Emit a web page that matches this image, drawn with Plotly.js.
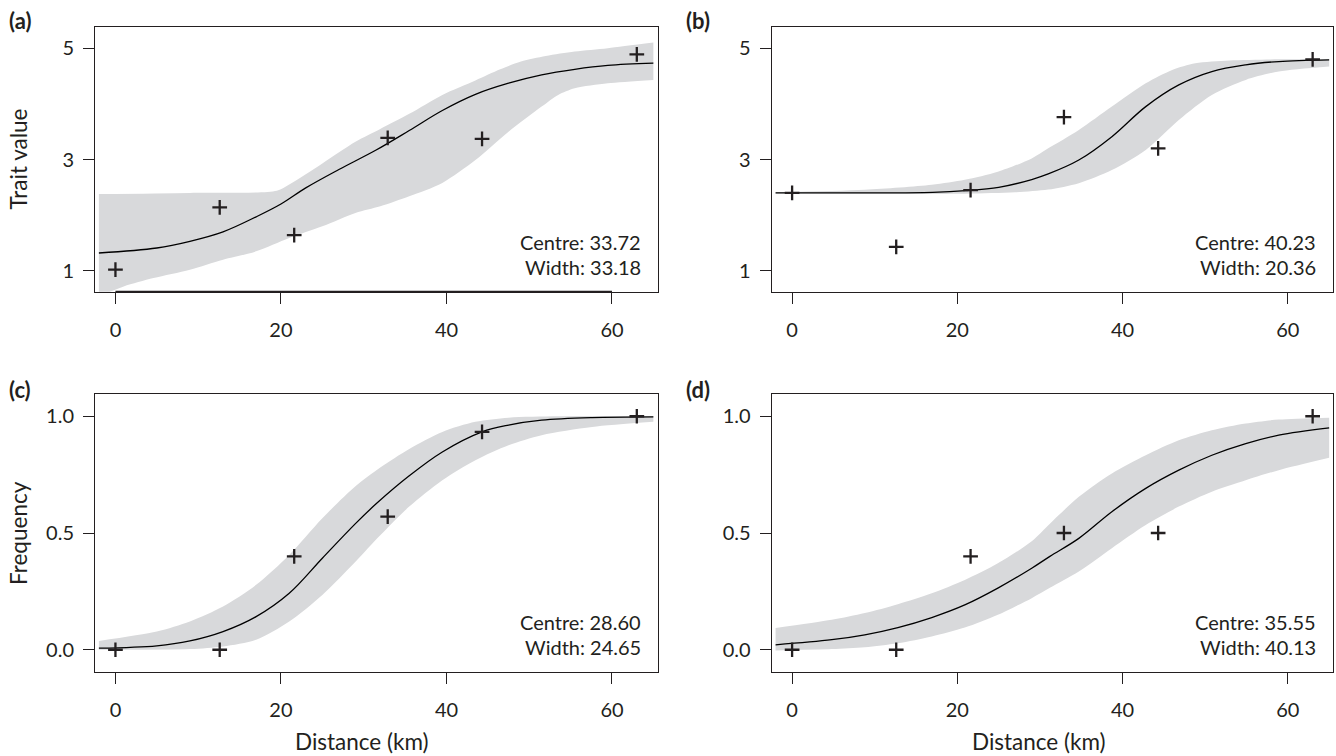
<!DOCTYPE html>
<html><head><meta charset="utf-8">
<script src="https://cdn.plot.ly/plotly-3.0.1.min.js"></script>
<style>html,body{margin:0;padding:0;background:#fff;}#chart{width:1336px;height:756px;}</style>
</head><body><div id="chart"></div>
<script>
// ---------- data ----------
const distance = [0, 12.6, 21.6, 32.9, 44.3, 63.0];
const traitA = [1.02, 2.14, 1.64, 3.39, 3.37, 4.89];
const traitB = [2.40, 1.43, 2.45, 3.76, 3.20, 4.80];
const freqC = [0, 0, 0.40, 0.57, 0.933, 1.0];
const freqD = [0, 0, 0.40, 0.50, 0.50, 1.0];

const fitAx = [-2, 5, 9, 13, 17, 20, 23, 27, 31.5, 35.5, 39.5, 43.5, 47.5, 51.5, 55.5, 59.5, 65];
const fitAy = [1.32, 1.41, 1.53, 1.70, 1.97, 2.20, 2.49, 2.82, 3.17, 3.52, 3.88, 4.17, 4.37, 4.52, 4.62, 4.69, 4.73];
const upAx = [-2, 9, 19.5, 21, 25, 29, 32, 35.5, 39.5, 43.5, 46.5, 49, 52, 55.5, 59.5, 65];
const upAy = [2.38, 2.40, 2.44, 2.55, 2.93, 3.32, 3.55, 3.82, 4.16, 4.42, 4.62, 4.76, 4.86, 4.94, 5.00, 5.10];
const loAx = [-2, 1, 4.6, 9, 13, 17, 21, 25, 29, 32, 35.5, 39.5, 43.5, 47.5, 51.5, 53.5, 55.5, 59.5, 65];
const loAy = [0.54, 0.72, 0.87, 1.02, 1.20, 1.35, 1.59, 1.80, 2.04, 2.16, 2.34, 2.58, 2.99, 3.50, 3.95, 4.16, 4.28, 4.37, 4.43];

const fitBx = [-2, 8.8, 17, 21, 25, 29, 31, 34.7, 38.7, 42.8, 46.8, 50.8, 54.9, 58.9, 65];
const fitBy = [2.40, 2.40, 2.41, 2.44, 2.50, 2.64, 2.74, 2.99, 3.41, 3.95, 4.34, 4.58, 4.70, 4.76, 4.79];
const upBx = [-2, 8.8, 16.9, 20.9, 24.9, 29, 31, 34.7, 38.7, 42.8, 46, 48.8, 52.9, 58.9, 65];
const upBy = [2.41, 2.455, 2.545, 2.635, 2.78, 3.02, 3.20, 3.53, 3.95, 4.37, 4.61, 4.73, 4.78, 4.80, 4.80];
const loBx = [-2, 8.8, 20.9, 27, 31, 34.7, 38.7, 42.8, 46.8, 50.8, 54.9, 58.9, 65];
const loBy = [2.39, 2.385, 2.385, 2.41, 2.46, 2.575, 2.81, 3.17, 3.71, 4.16, 4.43, 4.58, 4.67];

const fitCx = [-2, 5, 9, 13, 17, 21, 25, 29, 31.5, 35.5, 39.5, 44.3, 47.5, 51.5, 57.6, 65];
const fitCy = [0.007, 0.017, 0.038, 0.078, 0.142, 0.242, 0.392, 0.54, 0.625, 0.745, 0.847, 0.933, 0.962, 0.983, 0.994, 0.997];
const upCx = [-2, 5, 9, 13, 17, 21, 25, 29, 32, 35.5, 39.5, 43.5, 47.5, 53.6, 65];
const upCy = [0.038, 0.078, 0.121, 0.185, 0.278, 0.406, 0.563, 0.700, 0.780, 0.860, 0.933, 0.976, 0.994, 1.0, 1.0];
const loCx = [-2, 9, 13, 17, 21, 25, 29, 32, 35.5, 39.5, 43.5, 47.5, 51.5, 57.6, 65];
const loCy = [0.0, 0.003, 0.014, 0.043, 0.121, 0.235, 0.377, 0.49, 0.613, 0.726, 0.812, 0.876, 0.919, 0.954, 0.976];

const fitDx = [-2, 4.8, 8.8, 12.8, 16.9, 20.9, 24.9, 29, 31.2, 34.7, 38.7, 42.8, 46.8, 50.8, 54.9, 58.9, 65];
const fitDy = [0.021, 0.043, 0.064, 0.095, 0.138, 0.192, 0.264, 0.349, 0.40, 0.477, 0.591, 0.691, 0.769, 0.833, 0.883, 0.919, 0.950];
const upDy = [0.093, 0.128, 0.157, 0.195, 0.242, 0.299, 0.370, 0.465, 0.54, 0.655, 0.755, 0.833, 0.897, 0.940, 0.969, 0.986, 0.994];
const loDy = [-0.003, 0.003, 0.011, 0.028, 0.057, 0.095, 0.150, 0.221, 0.265, 0.335, 0.435, 0.534, 0.613, 0.677, 0.726, 0.769, 0.822];

const panelLabels = ['(a)', '(b)', '(c)', '(d)'];
const centres = ['33.72', '40.23', '28.60', '35.55'];
const widths = ['33.18', '20.36', '24.65', '40.13'];
const xTicks = [0, 20, 40, 60];
const traitTicks = [1, 3, 5];
const freqTicks = [0, 0.5, 1.0];
const freqTickText = ['0.0', '0.5', '1.0'];
const xTitle = 'Distance (km)';
const yTitleTop = 'Trait value';
const yTitleBottom = 'Frequency';

// ---------- styling / layout ----------
const W = 1336, H = 756;
const ink = '#231f20';
const bandColor = '#d8d9db';
const FONT = 'Lato, "Open Sans", sans-serif';
const px = v => v / W;
const py = v => 1 - v / H;

// plot boxes in pixels [left, top, right, bottom]
const boxes = [
  [95, 27.3, 657.5, 291.7],
  [771.7, 27.3, 1333.3, 291.7],
  [95, 394.3, 657.5, 671.7],
  [771.7, 394.3, 1333.3, 671.7]
];

const series = [
  {y: traitA, fx: fitAx, fy: fitAy, ux: upAx, uy: upAy, lx: loAx, ly: loAy},
  {y: traitB, fx: fitBx, fy: fitBy, ux: upBx, uy: upBy, lx: loBx, ly: loBy},
  {y: freqC, fx: fitCx, fy: fitCy, ux: upCx, uy: upCy, lx: loCx, ly: loCy},
  {y: freqD, fx: fitDx, fy: fitDy, ux: fitDx, uy: upDy, lx: fitDx, ly: loDy}
];

const traces = [];
const layout = {
  width: W, height: H,
  margin: {l: 0, r: 0, t: 0, b: 0},
  paper_bgcolor: '#ffffff', plot_bgcolor: '#ffffff',
  showlegend: false,
  font: {family: FONT, color: ink, size: 20},
  annotations: [],
  shapes: []
};

series.forEach((s, i) => {
  const n = i + 1;
  const xa = n === 1 ? 'x' : 'x' + n;
  const ya = n === 1 ? 'y' : 'y' + n;
  // confidence band: lower edge, then upper edge filled down to it
  traces.push({
    type: 'scatter', mode: 'lines', xaxis: xa, yaxis: ya,
    x: s.lx, y: s.ly,
    line: {width: 0, color: bandColor, shape: 'spline', smoothing: 0.8}, hoverinfo: 'skip'
  });
  traces.push({
    type: 'scatter', mode: 'lines', xaxis: xa, yaxis: ya,
    x: s.ux, y: s.uy, fill: 'tonexty', fillcolor: bandColor,
    line: {width: 0, color: bandColor, shape: 'spline', smoothing: 0.8}, hoverinfo: 'skip'
  });
  traces.push({
    type: 'scatter', mode: 'lines', xaxis: xa, yaxis: ya,
    x: s.fx, y: s.fy,
    line: {color: '#000000', width: 1.3, shape: 'spline', smoothing: 1}
  });
  traces.push({
    type: 'scatter', mode: 'markers', xaxis: xa, yaxis: ya,
    x: distance, y: s.y,
    marker: {symbol: 'cross-thin', size: 10.5, color: ink, line: {color: ink, width: 2.3}},
    cliponaxis: false
  });

  const b = boxes[i];
  const top = i < 2;
  const axCommon = {
    showline: true, mirror: true, linecolor: ink, linewidth: 1,
    ticks: 'outside', ticklen: 11, tickwidth: 1, tickcolor: ink,
    showgrid: false, zeroline: false, fixedrange: true,
    tickfont: {family: FONT, size: 20, color: ink}
  };
  layout['xaxis' + (n === 1 ? '' : n)] = Object.assign({}, axCommon, {
    domain: [px(b[0]), px(b[2])], anchor: ya,
    range: [-2.47, 65.5], tickmode: 'array', tickvals: xTicks,
    ticklabelstandoff: 9
  });
  layout['yaxis' + (n === 1 ? '' : n)] = Object.assign({}, axCommon, {
    domain: [py(b[3]), py(b[1])], anchor: xa,
    range: top ? [0.625, 5.375] : [-0.094, 1.094],
    tickmode: 'array',
    tickvals: top ? traitTicks : freqTicks,
    ticktext: top ? traitTicks.map(String) : freqTickText,
    ticklabelstandoff: 5
  });

  // R-style axis line from first to last tick (visible as heavier stroke in panel a)
  if (i === 0) {
    layout.shapes.push({
      type: 'line', xref: xa, yref: ya + ' domain',
      x0: xTicks[0], x1: xTicks[xTicks.length - 1], y0: 0, y1: 0,
      line: {color: ink, width: 2}
    });
  }

  // panel label
  layout.annotations.push({
    xref: 'paper', yref: 'paper', x: px(b[0] - 88), y: py(top ? 20 : 389),
    xanchor: 'left', yanchor: 'middle', showarrow: false,
    text: '<b>' + panelLabels[i] + '</b>', font: {family: FONT, size: 22, color: ink}
  });
  // centre / width text
  layout.annotations.push({
    xref: 'paper', yref: 'paper', x: px(b[2] - 15), y: py(b[3] - 49.5),
    xanchor: 'right', yanchor: 'middle', showarrow: false,
    text: 'Centre: ' + centres[i], font: {family: FONT, size: 20, color: ink}
  });
  layout.annotations.push({
    xref: 'paper', yref: 'paper', x: px(b[2] - 15), y: py(b[3] - 24.5),
    xanchor: 'right', yanchor: 'middle', showarrow: false,
    text: 'Width: ' + widths[i], font: {family: FONT, size: 20, color: ink}
  });
});

// axis titles
[[18, 159.5, yTitleTop], [18, 533, yTitleBottom]].forEach(t => {
  layout.annotations.push({
    xref: 'paper', yref: 'paper', x: px(t[0]), y: py(t[1]),
    xanchor: 'center', yanchor: 'middle', textangle: -90, showarrow: false,
    text: t[2], font: {family: FONT, size: 22.5, color: ink}
  });
});
[362, 1039].forEach(cx => {
  layout.annotations.push({
    xref: 'paper', yref: 'paper', x: px(cx), y: py(741),
    xanchor: 'center', yanchor: 'middle', showarrow: false,
    text: xTitle, font: {family: FONT, size: 22.5, color: ink}
  });
});

Plotly.newPlot('chart', traces, layout, {displayModeBar: false, staticPlot: true});
</script>
</body></html>
